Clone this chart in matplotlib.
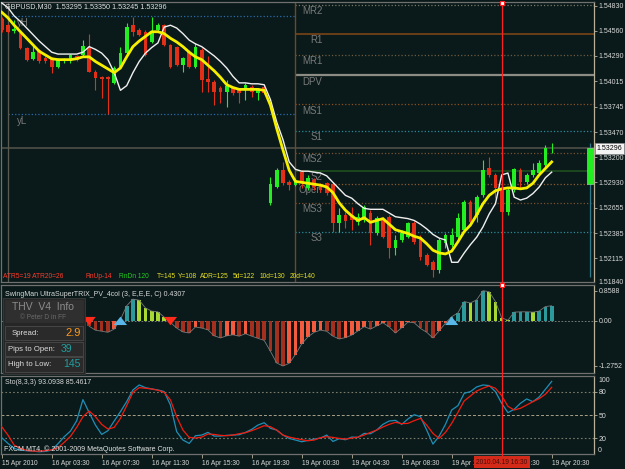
import numpy as np
import matplotlib
matplotlib.use('Agg')
import matplotlib.pyplot as plt
from matplotlib.lines import Line2D
from matplotlib.patches import Rectangle
from matplotlib.transforms import blended_transform_factory

plt.rcParams['font.family'] = ['Liberation Sans', 'DejaVu Sans']

# ---- price bars, GBPUSD M30 (bar 0 = 15 Apr 23:30) ----
opens = [1.5469, 1.5462, 1.5456, 1.5454, 1.5438, 1.5426, 1.5435, 1.5427, 1.5427, 1.5417,
         1.5423, 1.5423, 1.5429, 1.5430, 1.5438, 1.5412, 1.5406, 1.5406, 1.5400, 1.5417,
         1.5432, 1.5462, 1.5457, 1.5455, 1.5444, 1.5457, 1.5462, 1.5441, 1.5439, 1.5419,
         1.5433, 1.5417, 1.5435, 1.5404, 1.5401, 1.5395, 1.5390, 1.5395, 1.5392, 1.5392,
         1.5396, 1.5389, 1.5396, 1.5271, 1.5288, 1.5306, 1.5293, 1.5290, 1.5304, 1.5287,
         1.5296, 1.5290, 1.5292, 1.5291, 1.5249, 1.5258, 1.5258, 1.5250, 1.5252, 1.5260,
         1.5238, 1.5254, 1.5256, 1.5222, 1.5231, 1.5234, 1.5249, 1.5234, 1.5215, 1.5207,
         1.5199, 1.5228, 1.5226, 1.5234, 1.5242, 1.5272, 1.5258, 1.5279, 1.5308, 1.5301,
         1.5287, 1.5261, 1.5285, 1.5306, 1.5293, 1.5301, 1.5303, 1.5312, 1.53295]
highs = [1.5471, 1.5463, 1.5468, 1.5455, 1.5439, 1.5442, 1.5436, 1.5429, 1.5428, 1.5427,
         1.5427, 1.5431, 1.5430, 1.5446, 1.5453, 1.5414, 1.5407, 1.5407, 1.5418, 1.5439,
         1.5464, 1.5471, 1.5459, 1.5457, 1.5471, 1.5464, 1.5463, 1.5442, 1.5440, 1.5428,
         1.5435, 1.5443, 1.5438, 1.5429, 1.5403, 1.5397, 1.5403, 1.5396, 1.5395, 1.5400,
         1.5398, 1.5395, 1.5397, 1.5299, 1.5308, 1.5315, 1.5296, 1.5298, 1.5306, 1.5301,
         1.5298, 1.5292, 1.5293, 1.5293, 1.5265, 1.5261, 1.5266, 1.5260, 1.5269, 1.5263,
         1.5257, 1.5256, 1.5258, 1.5236, 1.5242, 1.5250, 1.5251, 1.5236, 1.5217, 1.5209,
         1.5233, 1.5238, 1.5244, 1.5260, 1.5274, 1.5274, 1.5279, 1.5317, 1.5320, 1.5303,
         1.5303, 1.5287, 1.5308, 1.5308, 1.5303, 1.5314, 1.5317, 1.5333, 1.53350]
lows = [1.5455, 1.5454, 1.5454, 1.5436, 1.5424, 1.5425, 1.5421, 1.5421, 1.5411, 1.5416,
        1.5421, 1.5421, 1.5424, 1.5429, 1.5412, 1.5392, 1.5384, 1.5366, 1.5399, 1.5416,
        1.5431, 1.5450, 1.5450, 1.5429, 1.5443, 1.5456, 1.5440, 1.5416, 1.5418, 1.5412,
        1.5416, 1.5416, 1.5390, 1.5390, 1.5376, 1.5378, 1.5374, 1.5387, 1.5378, 1.5382,
        1.5385, 1.5382, 1.5388, 1.5269, 1.5287, 1.5290, 1.5285, 1.5289, 1.5287, 1.5285,
        1.5285, 1.5283, 1.5279, 1.5240, 1.5240, 1.5244, 1.5242, 1.5247, 1.5250, 1.5226,
        1.5236, 1.5233, 1.5212, 1.5215, 1.5229, 1.5233, 1.5227, 1.5209, 1.5203, 1.5191,
        1.5196, 1.5222, 1.5223, 1.5231, 1.5240, 1.5248, 1.5250, 1.5277, 1.5299, 1.5276,
        1.5260, 1.5258, 1.5283, 1.5287, 1.5291, 1.5299, 1.5301, 1.5309, 1.53245]
closes = [1.5457, 1.5455, 1.5458, 1.5438, 1.5425, 1.5433, 1.5423, 1.5423, 1.5417, 1.5425,
          1.5425, 1.5430, 1.5425, 1.5440, 1.5412, 1.5405, 1.5404, 1.5404, 1.5416, 1.5432,
          1.5460, 1.5455, 1.5452, 1.5430, 1.5456, 1.5462, 1.5441, 1.5417, 1.5419, 1.5427,
          1.5417, 1.5439, 1.5403, 1.5401, 1.5390, 1.5390, 1.5397, 1.5389, 1.5389, 1.5398,
          1.5390, 1.5392, 1.5389, 1.5291, 1.5306, 1.5292, 1.5290, 1.5296, 1.5292, 1.5298,
          1.5288, 1.5285, 1.5282, 1.5249, 1.5258, 1.5251, 1.5252, 1.5256, 1.5266, 1.5238,
          1.5255, 1.5234, 1.5222, 1.5231, 1.5238, 1.5249, 1.5229, 1.5213, 1.5204, 1.5199,
          1.5231, 1.5236, 1.5236, 1.5255, 1.5272, 1.5250, 1.5277, 1.5306, 1.5301, 1.5287,
          1.5261, 1.5285, 1.5307, 1.5293, 1.5301, 1.5306, 1.5314, 1.5330, 1.53296]

ma_yellow = [1.5476, 1.5470, 1.5462, 1.5455, 1.5448, 1.5441, 1.5434, 1.5430, 1.5426, 1.5425,
             1.5425, 1.5425, 1.5426, 1.5428, 1.5428, 1.5423, 1.5419, 1.5415, 1.5411, 1.5416,
             1.5428, 1.5439, 1.5445, 1.5450, 1.5455, 1.5455, 1.5453, 1.5448, 1.5444, 1.5439,
             1.5433, 1.5428, 1.5425, 1.5419, 1.5413, 1.5406, 1.5398, 1.5395, 1.5393, 1.5393,
             1.5393, 1.5393, 1.5392, 1.5376, 1.5351, 1.5328, 1.5306, 1.5294, 1.5293, 1.5292,
             1.5291, 1.5290, 1.5288, 1.5282, 1.5271, 1.5263, 1.5257, 1.5252, 1.5255, 1.5250,
             1.5252, 1.5254, 1.5248, 1.5242, 1.5240, 1.5238, 1.5235, 1.5233, 1.5227, 1.5220,
             1.5217, 1.5216, 1.5219, 1.5229, 1.5240, 1.5247, 1.5258, 1.5270, 1.5279, 1.5284,
             1.5286, 1.5287, 1.5287, 1.5286, 1.5287, 1.5292, 1.5301, 1.5308, 1.5315]
ma_white = [1.5486, 1.5481, 1.5472, 1.5466, 1.5459, 1.5452, 1.5445, 1.5439, 1.5433, 1.5431,
            1.5431, 1.5431, 1.5431, 1.5433, 1.5439, 1.5436, 1.5432, 1.5425, 1.5411, 1.5392,
            1.5397, 1.5411, 1.5423, 1.5432, 1.5438, 1.5443, 1.5460, 1.5462, 1.5459, 1.5453,
            1.5446, 1.5442, 1.5439, 1.5434, 1.5429, 1.5423, 1.5416, 1.5407, 1.5400, 1.5400,
            1.5399, 1.5399, 1.5398, 1.5382, 1.5358, 1.5339, 1.5315, 1.5307, 1.5305, 1.5305,
            1.5304, 1.5303, 1.5300, 1.5293, 1.5286, 1.5279, 1.5276, 1.5270, 1.5265, 1.5264,
            1.5264, 1.5264, 1.5260, 1.5256, 1.5255, 1.5254, 1.5252, 1.5248, 1.5243, 1.5237,
            1.5233, 1.5231, 1.5207, 1.5207, 1.5217, 1.5226, 1.5234, 1.5245, 1.5259, 1.5270,
            1.5301, 1.5303, 1.5277, 1.5274, 1.5276, 1.5281, 1.5288, 1.5298, 1.5304]

# pivot levels for 19 Apr and yesterday's range
level_names = ['MR2', 'R1', 'MR1', 'DPV', 'MS1', 'S1', 'MS2', 'S2', 'Open', 'MS3', 'S3']
level_values = [1.5484, 1.5453, 1.5430, 1.5408, 1.5377, 1.5348, 1.5325, 1.5305, 1.5291, 1.5271, 1.5240]
yday_names = ['yH', 'yL']
yday_values = [1.5472, 1.5366]
day_starts = [1, 47]
last_price = 1.53296
day_ohlc = [1.5291, 1.5335, 1.5191, 1.53296]

# UltraSuperTRIX histogram, bars 14..88
trix_start = 14
trix = [-0.15, -0.26, -0.29, -0.32, -0.23, 0.04, 0.43, 0.62, 0.59, 0.37,
        0.28, 0.26, 0.11, -0.04, -0.20, -0.31, -0.34, -0.17, -0.20, -0.25,
        -0.42, -0.48, -0.42, -0.39, -0.43, -0.36, -0.43, -0.49, -0.55, -0.86,
        -1.19, -1.2752, -1.20, -0.95, -0.65, -0.45, -0.32, -0.26, -0.29, -0.43,
        -0.51, -0.47, -0.40, -0.28, -0.16, -0.23, -0.14, -0.05, -0.17, -0.34,
        -0.19, -0.03, -0.05, -0.21, -0.32, -0.48, -0.28, -0.06, 0.12, 0.23,
        0.55, 0.51, 0.60, 0.8588, 0.83, 0.55, 0.09, 0.02, 0.25, 0.26,
        0.26, 0.25, 0.28, 0.41, 0.4307]
sell_arrows = [14, 27]
buy_arrows = [19, 72]

# Stochastic (8,3,3)
sto_main = [20.9, 13.6, 7.2, 5.0, 4.2, 3.7, 2.9, 3.3, 5.0, 13.1,
            22.1, 29.4, 42.7, 69.7, 53.0, 37.1, 25.1, 29.9, 42.3, 54.3,
            67.1, 82.1, 88.5, 85.1, 83.4, 82.1, 80.0, 62.8, 28.6, 17.9,
            13.6, 23.4, 24.3, 27.7, 23.0, 23.0, 23.9, 24.3, 24.7, 27.7,
            31.6, 37.1, 40.1, 32.9, 30.7, 24.3, 20.0, 17.9, 15.7, 17.4,
            19.1, 20.4, 24.3, 16.1, 19.6, 18.3, 21.7, 21.3, 26.4, 26.0,
            30.7, 38.0, 42.3, 43.1, 38.0, 44.9, 50.4, 47.8, 30.7, 12.7,
            23.0, 38.0, 56.4, 62.0, 77.8, 80.0, 86.0, 88.5, 87.7, 80.0,
            65.0, 53.0, 57.3, 65.0, 70.6, 67.1, 73.1, 83.0, 93.09]
sto_signal = [35.0, 24.3, 11.4, 7.2, 4.6, 3.7, 3.7, 4.2, 5.4, 8.0,
              14.9, 22.6, 34.1, 47.8, 55.1, 47.8, 38.0, 32.0, 34.1, 45.7,
              62.0, 79.1, 85.1, 84.3, 83.4, 81.7, 79.1, 69.3, 47.8, 30.7,
              21.3, 20.4, 21.7, 25.6, 25.1, 23.9, 23.4, 24.3, 26.0, 27.3,
              29.9, 32.9, 36.3, 35.0, 30.7, 24.3, 21.7, 20.0, 18.3, 17.0,
              17.9, 20.9, 22.1, 21.3, 20.0, 19.1, 20.4, 21.7, 24.3, 27.7,
              30.7, 34.6, 38.0, 40.6, 38.9, 39.3, 42.7, 45.7, 37.1, 26.4,
              20.0, 27.7, 39.3, 53.4, 68.0, 74.4, 80.8, 84.3, 87.3, 84.3,
              74.8, 61.1, 56.4, 58.6, 62.8, 67.1, 71.0, 76.6, 85.46]

time_ticks = [0, 8, 16, 24, 32, 40, 48, 56, 64, 72, 80, 88]
time_labels = ['15 Apr 2010', '16 Apr 03:30', '16 Apr 07:30', '16 Apr 11:30', '16 Apr 15:30',
               '16 Apr 19:30', '19 Apr 00:30', '19 Apr 04:30', '19 Apr 08:30', '19 Apr 12:30',
               '19 Apr 16:30', '19 Apr 20:30']
cursor_bar = 80

main_ticks = [1.54830, 1.54560, 1.54290, 1.54015, 1.53745, 1.53470, 1.53200,
              1.52930, 1.52655, 1.52385, 1.52115]

# ---- layout helpers (pixels of a 625x469 picture) ----
W, H = 625, 469
BG = '#0a1a1a'
TXT = '#d8d8d8'


def fx(x):
    return x / W


def fy(y):
    return 1 - y / H


fig = plt.figure(figsize=(6.25, 4.69), dpi=100, facecolor=BG)
X_LO, X_HI = -0.11, 94.77


def panel(top, bottom):
    ax = fig.add_axes([fx(1), fy(bottom), fx(594) - fx(1), (bottom - top) / H])
    ax.set_facecolor(BG)
    ax.set_xlim(X_LO, X_HI)
    for side in ['top', 'left', 'bottom']:
        ax.spines[side].set_color('#707070')
        ax.spines[side].set_linewidth(0.9)
    ax.spines['right'].set_color('#b8b098')
    ax.spines['right'].set_linewidth(0.9)
    ax.yaxis.tick_right()
    ax.tick_params(axis='y', colors='#b8b098', length=2, width=0.6, pad=1.5,
                   labelsize=5, labelcolor=TXT)
    ax.tick_params(axis='x', length=0, labelbottom=False)
    return ax


ax1 = panel(2, 282)
ax2 = panel(285, 373)
ax3 = panel(376, 454)

# ---- main chart ----
ax1.set_ylim(1.51858, 1.54870)
ax1.set_yticks(main_ticks)
ax1.set_yticklabels(['%.5f' % v for v in main_ticks])

idx = np.arange(len(opens))
o, h, l, c = map(np.array, (opens, highs, lows, closes))
up = c >= o
col = np.where(up, '#22ee22', '#e23018')

pivot_style = {'MR2': ('#77776a', ':', 0.9), 'R1': ('#7a4518', '-', 1.2),
               'MR1': ('#6e5a40', ':', 0.9), 'DPV': ('#8c8c84', '-', 1.6),
               'MS1': ('#8a5020', ':', 0.9), 'S1': ('#2a8a9a', ':', 0.9),
               'MS2': ('#7a5030', ':', 0.9), 'S2': ('#1e4e1e', '-', 1.2),
               'Open': ('#8a5a30', ':', 0.9), 'MS3': ('#7a5030', ':', 0.9),
               'S3': ('#2a8a9a', ':', 0.9)}
for name, val in zip(level_names, level_values):
    cl, ls, lw = pivot_style[name]
    ax1.hlines(val, day_starts[1], X_HI, colors=cl, linestyles=ls, lw=lw, zorder=1)
    ax1.annotate(name, (51.3, val), xytext=(0, -4.5), textcoords='offset points',
                 ha='right', va='center', fontsize=7, color='#7a7a7a', zorder=2)
for name, val in zip(yday_names, yday_values):
    ax1.hlines(val, day_starts[0], day_starts[1], colors='#2a6aaa', linestyles=':', lw=0.9, zorder=1)
    ax1.annotate(name, (2.5, val), xytext=(0, -5), textcoords='offset points',
                 ha='left', va='center', fontsize=7, color='#7a7a7a', zorder=2)
ax1.axhline(last_price, color='#4a4a44', lw=1.3, zorder=1)
ax1.axvline(day_starts[0], color='#5a5a52', lw=0.9, zorder=1)
ax1.axvline(day_starts[1], color='#6b4a26', lw=1.0, zorder=1)

ax1.vlines(idx, l, h, colors=col, lw=0.8, zorder=3)
body = np.maximum(np.abs(c - o), 0.00006)
ax1.bar(idx, body, bottom=np.minimum(o, c), width=0.62, color=col, lw=0, zorder=3)

ax1.plot(idx, ma_white, color='#f0f0f0', lw=1.0, zorder=4)
ax1.plot(idx, ma_yellow, color='#f5f000', lw=2.0, zorder=5)

# daily candle at the right edge
d_o, d_h, d_l, d_c = day_ohlc
ax1.vlines(94.1, d_l, d_h, colors='#2e7a8a', lw=0.9, zorder=3)
ax1.bar(94.1, d_c - d_o, bottom=d_o, width=0.95, color='#22ee22', ec='#a0e0a0', lw=0.4, zorder=4)

ax1.text(1.004, last_price, '%.5f' % last_price, transform=blended_transform_factory(ax1.transAxes, ax1.transData),
         fontsize=5, color='black', va='center', ha='left', clip_on=False, zorder=10,
         bbox=dict(boxstyle='square,pad=0.25', fc='#f4f4f4', ec='#909090', lw=0.5))

fig.text(fx(5), fy(7), 'GBPUSD,M30  1.53295 1.53350 1.53245 1.53296', fontsize=5.2,
         color='#e0e0e0', va='center')
fig.text(fx(598), fy(283), '1.51840', fontsize=5, color=TXT, va='center')

stats = [('ATR5=19 ATR20=26', 3, '#ff3a2a'), ('RnUp-14', 85, '#ff3a2a'), ('RnDn 120', 119, '#22cc22'),
         ('T=145', 157, '#e8e020'), ('Y=108', 178, '#e8e020'), ('ADR=125', 200, '#e8e020'),
         ('5d=122', 233, '#e8e020'), ('10d=130', 260, '#e8e020'), ('20d=140', 290, '#e8e020')]
for s, x, cl in stats:
    fig.text(fx(x), fy(277), s, fontsize=4.8, color=cl, va='center')

# ---- TRIX histogram ----
ax2.set_ylim(-1.474, 1.020)
ax2.set_yticks([0.8588, 0.0, -1.2752])
ax2.set_yticklabels(['0.8588', '0.00', '-1.2752'])
tv = np.array(trix)
ti = np.arange(trix_start, trix_start + len(tv))
prev = np.r_[0.0, tv[:-1]]
rising = tv >= prev
tcol = np.where(tv >= 0, np.where(rising, '#2a9a9c', '#a8d832'),
                np.where(rising, '#f45a3e', '#a3301e'))
ax2.axhline(0, color='#8a8a8a', ls=(0, (2, 2)), lw=0.6, zorder=1)
ax2.bar(ti, tv, width=0.58, color=tcol, lw=0, zorder=3)
ax2.plot(ti, tv, color='#7a7a7a', lw=0.6, zorder=4)
arrow_style = 'simple,head_length=0.6,head_width=0.95,tail_width=0.38'
for i in sell_arrows:
    ax2.annotate('', xy=(i, -0.2), xytext=(i, 0.18), zorder=6,
                 arrowprops=dict(arrowstyle=arrow_style, fc='#ff2a1a', ec='none'))
for i in buy_arrows:
    ax2.annotate('', xy=(i, 0.2), xytext=(i, -0.18), zorder=6,
                 arrowprops=dict(arrowstyle=arrow_style, fc='#5ab8e8', ec='none'))

# info box
box = [(3, 298, 82, 76, '#262626', '#3a3a3a'), (5, 300, 78, 22, '#2f2f2f', '#2f2f2f'),
       (5, 326, 78, 14, '#2a2a2a', '#4a4a4a'), (5, 342, 78, 14, '#2a2a2a', '#4a4a4a'),
       (5, 357, 78, 15, '#2a2a2a', '#4a4a4a')]
for x, y, w, hh, fc, ec in box:
    fig.add_artist(Rectangle((fx(x), fy(y + hh)), w / W, hh / H, transform=fig.transFigure,
                             fc=fc, ec=ec, lw=0.6, zorder=8))
fig.text(fx(43), fy(307), 'THV  V4  Info', fontsize=7.5, color='#8c8c8c', ha='center', va='center', zorder=9)
fig.text(fx(43), fy(317), '\u00a9 Peter D in FF', fontsize=4.8, color='#6a6a6a', ha='center', va='center', zorder=9)
fig.text(fx(12), fy(333), 'Spread:', fontsize=5.6, color='#dcdcdc', va='center', zorder=9)
fig.text(fx(81), fy(333), '2.9', fontsize=8, color='#ff9a1a', ha='right', va='center', zorder=9)
fig.text(fx(8), fy(349), 'Pips to Open:', fontsize=5.6, color='#dcdcdc', va='center', zorder=9)
fig.text(fx(72), fy(349), '39', fontsize=7.5, color='#20a0a0', ha='right', va='center', zorder=9)
fig.text(fx(8), fy(364), 'High to Low:', fontsize=5.6, color='#dcdcdc', va='center', zorder=9)
fig.text(fx(81), fy(364), '145', fontsize=7.5, color='#20a0a0', ha='right', va='center', zorder=9)
fig.text(fx(5), fy(294), 'SwingMan UltraSuperTRIX_PV_4col (3, E,E,E, C) 0.4307', fontsize=5,
         color=TXT, va='center', zorder=9)

# ---- Stochastic ----
ax3.set_ylim(0, 100)
ax3.set_yticks([20, 50, 80])
ax3.set_yticklabels(['20', '50', '80'])
ax3.axhline(80, color='#7a7a6a', ls=(0, (1.5, 2)), lw=0.8)
ax3.axhline(20, color='#7a7a6a', ls=(0, (1.5, 2)), lw=0.8)
ax3.axhline(50, color='#a8a088', ls=(0, (3, 2)), lw=0.7)
ax3.plot(idx, sto_main, color='#1f8fb8', lw=0.9, zorder=3)
ax3.plot(idx, sto_signal, color='#f01c10', lw=0.9, zorder=4)
fig.text(fx(598), fy(380), '100', fontsize=5, color=TXT, va='center')
fig.text(fx(598), fy(450), '0', fontsize=5, color=TXT, va='center')
fig.text(fx(5), fy(382), 'Sto(8,3,3) 93.0938 85.4617', fontsize=5, color=TXT, va='center')
fig.text(fx(4), fy(449), 'FXCM MT4, \u00a9 2001-2009 MetaQuotes Software Corp.', fontsize=5,
         color='#e8e8e8', va='center')

ax3.set_xticks(time_ticks)
ax3.set_xticklabels(time_labels)
ax3.tick_params(axis='x', length=3, width=0.6, colors='#b8b098', labelbottom=True,
                labelsize=4.8, labelcolor=TXT, pad=1.5)
for lab in ax3.get_xticklabels():
    lab.set_ha('left')

# ---- cursor line across all windows ----
tr = blended_transform_factory(ax1.transData, fig.transFigure)
fig.add_artist(Line2D([cursor_bar, cursor_bar], [fy(2), fy(458)], transform=tr,
                      color='#ff2020', lw=0.9, zorder=7))
for yy in (3, 285):
    fig.add_artist(Line2D([cursor_bar], [fy(yy)], transform=tr, marker='s', ms=2.5,
                          mfc='white', mec='#ff2020', mew=0.8, zorder=8))
fig.text(cursor_bar, fy(462), '2010.04.19 16:30', transform=tr, fontsize=4.8, color='#4a0c08',
         ha='center', va='center', zorder=9,
         bbox=dict(boxstyle='square,pad=0.35', fc='#d42a1a', ec='none'))

fig.savefig('out.png', dpi=100, facecolor=BG)
